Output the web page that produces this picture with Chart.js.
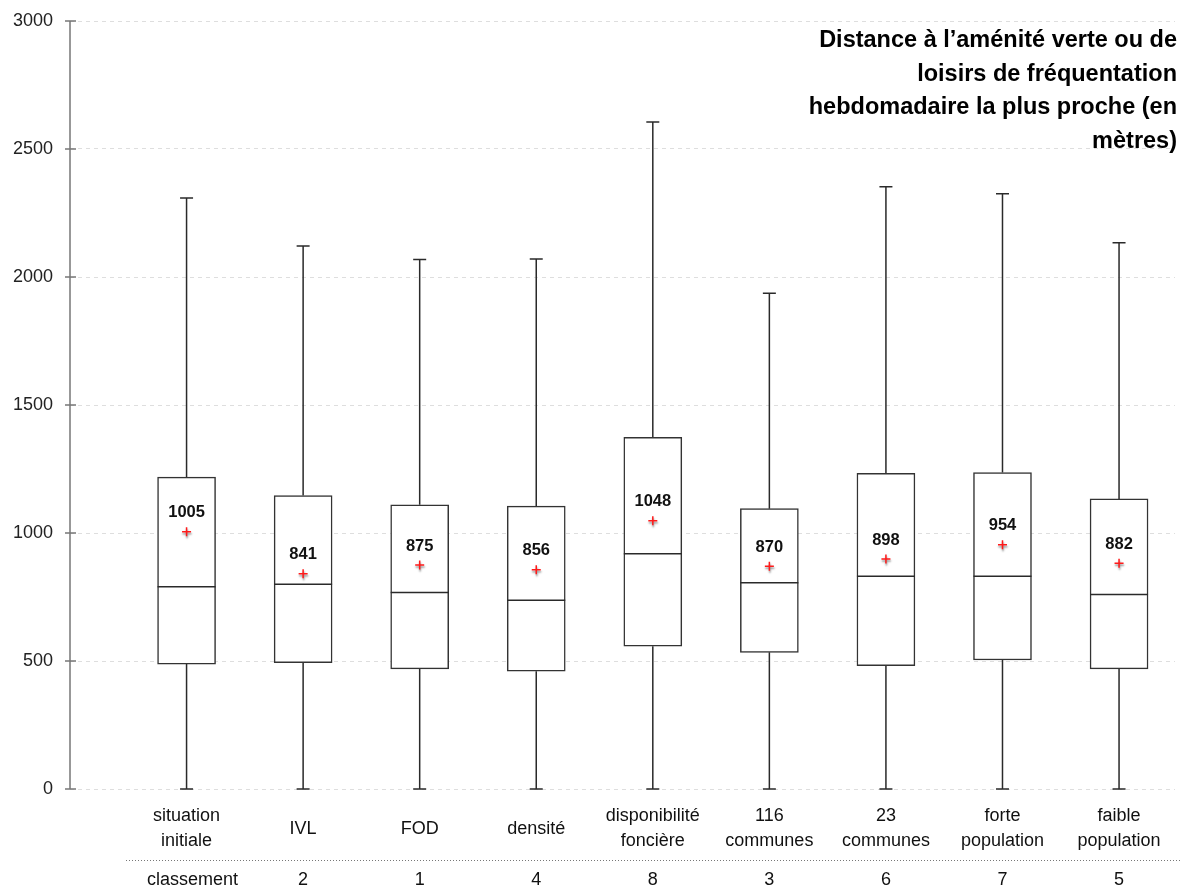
<!DOCTYPE html>
<html>
<head>
<meta charset="utf-8">
<script src="https://cdn.jsdelivr.net/npm/chart.js@4"></script>
<style>
  html, body { margin: 0; padding: 0; background: #fff; }
  #wrap { width: 1181px; height: 888px; }
</style>
</head>
<body>
<div id="wrap"><canvas id="box" width="1181" height="888"></canvas></div>
<script>
const categories = [['situation', 'initiale'], ['IVL'], ['FOD'], ['densité'], ['disponibilité', 'foncière'],
  ['116', 'communes'], ['23', 'communes'], ['forte', 'population'], ['faible', 'population']];
const whiskerLow = [0, 0, 0, 0, 0, 0, 0, 0, 0];
const q1 = [488, 493, 469, 460, 558, 534, 482, 504, 469];
const medians = [790, 800, 768, 737, 919, 806, 831, 831, 760];
const q3 = [1218, 1146, 1110, 1105, 1374, 1095, 1233, 1236, 1133];
const whiskerHigh = [2309, 2121, 2068, 2070, 2605, 1937, 2353, 2325, 2134];
const means = [1005, 841, 875, 856, 1048, 870, 898, 954, 882];
const rankTitle = 'classement';
const ranks = ['', '2', '1', '4', '8', '3', '6', '7', '5'];
const yTicks = [0, 500, 1000, 1500, 2000, 2500, 3000];
const titleLines = ['Distance à l’aménité verte ou de', 'loisirs de fréquentation',
  'hebdomadaire la plus proche (en', 'mètres)'];

const FONT = '"Liberation Sans", Arial, sans-serif';

const boxExtras = {
  id: 'boxExtras',
  beforeDatasetsDraw(chart) {
    const { ctx, scales: { x, y } } = chart;
    ctx.save();
    ctx.strokeStyle = '#2a2a2a';
    ctx.lineWidth = 1.5;
    categories.forEach((c, i) => {
      const cx = x.getPixelForValue(i);
      const top = y.getPixelForValue(whiskerHigh[i]);
      const bot = y.getPixelForValue(whiskerLow[i]);
      ctx.beginPath();
      ctx.moveTo(cx, top); ctx.lineTo(cx, y.getPixelForValue(q3[i]));
      ctx.moveTo(cx, y.getPixelForValue(q1[i])); ctx.lineTo(cx, bot);
      ctx.moveTo(cx - 6.5, top); ctx.lineTo(cx + 6.5, top);
      ctx.moveTo(cx - 6.5, bot); ctx.lineTo(cx + 6.5, bot);
      ctx.stroke();
    });
    ctx.restore();
  },
  beforeDatasetDraw(chart, args) {
    if (args.index === 1) {
      const ctx = chart.ctx;
      ctx.save();
      ctx.shadowColor = 'rgba(0,0,0,0.45)';
      ctx.shadowBlur = 2;
      ctx.shadowOffsetX = 0.5;
      ctx.shadowOffsetY = 2;
    }
  },
  afterDatasetDraw(chart, args) {
    if (args.index === 1) chart.ctx.restore();
  },
  afterDatasetsDraw(chart) {
    const { ctx, scales: { x, y } } = chart;
    ctx.save();
    ctx.strokeStyle = '#2a2a2a';
    ctx.lineWidth = 1.5;
    categories.forEach((c, i) => {
      const cx = x.getPixelForValue(i);
      const my = y.getPixelForValue(medians[i]);
      ctx.beginPath();
      ctx.moveTo(cx - 29, my); ctx.lineTo(cx + 29, my);
      ctx.stroke();
    });
    ctx.fillStyle = '#111';
    ctx.font = 'bold 16.5px ' + FONT;
    ctx.textAlign = 'center';
    ctx.textBaseline = 'middle';
    means.forEach((m, i) => {
      ctx.fillText(String(m), x.getPixelForValue(i), y.getPixelForValue(m) - 19);
    });
    ctx.restore();
  },
  afterDraw(chart) {
    const { ctx, scales: { x, y }, chartArea } = chart;
    ctx.save();
    // axis line and tick marks
    ctx.strokeStyle = '#777';
    ctx.lineWidth = 1.5;
    ctx.beginPath();
    ctx.moveTo(chartArea.left, y.getPixelForValue(3000));
    ctx.lineTo(chartArea.left, y.getPixelForValue(0));
    yTicks.forEach(v => {
      const py = y.getPixelForValue(v);
      ctx.moveTo(chartArea.left - 5, py); ctx.lineTo(chartArea.left + 6, py);
    });
    ctx.stroke();

    // title
    ctx.fillStyle = '#000';
    ctx.font = 'bold 23.5px ' + FONT;
    ctx.textAlign = 'right';
    ctx.textBaseline = 'middle';
    titleLines.forEach((t, k) => ctx.fillText(t, 1177, 41 + k * 33.5));

    // category labels
    ctx.fillStyle = '#111';
    ctx.font = '18px ' + FONT;
    ctx.textAlign = 'center';
    categories.forEach((c, i) => {
      const cx = x.getPixelForValue(i);
      if (c.length === 2) {
        ctx.fillText(c[0], cx, 816);
        ctx.fillText(c[1], cx, 841);
      } else {
        ctx.fillText(c[0], cx, 829);
      }
    });

    // dotted separator
    ctx.strokeStyle = '#777';
    ctx.lineWidth = 1;
    ctx.setLineDash([1, 2]);
    ctx.beginPath();
    ctx.moveTo(126, 860.5); ctx.lineTo(1181, 860.5);
    ctx.stroke();
    ctx.setLineDash([]);

    // ranking row
    ctx.fillText(rankTitle, x.getPixelForValue(0) + 6, 880);
    ranks.forEach((r, i) => {
      if (r) ctx.fillText(r, x.getPixelForValue(i), 880);
    });
    ctx.restore();
  }
};

new Chart(document.getElementById('box'), {
  type: 'bar',
  data: {
    datasets: [{
      label: 'boîtes',
      data: categories.map((c, i) => ({ x: i, y: [q1[i], q3[i]] })),
      backgroundColor: '#fff',
      borderColor: '#333',
      borderWidth: 1.5,
      borderSkipped: false,
      barThickness: 58,
      order: 2
    }, {
      type: 'scatter',
      label: 'moyenne',
      data: means.map((m, i) => ({ x: i, y: m })),
      pointStyle: 'cross',
      pointRadius: 4.5,
      borderColor: '#ff1a1a',
      borderWidth: 1.5,
      backgroundColor: '#ff1a1a',
      order: 1
    }]
  },
  options: {
    responsive: false,
    animation: false,
    devicePixelRatio: 1,
    layout: { padding: { top: 21, right: 1, bottom: 99, left: 0 } },
    plugins: { legend: { display: false }, tooltip: { enabled: false } },
    scales: {
      x: {
        type: 'linear',
        display: false,
        offset: false,
        min: -1,
        max: 8.48
      },
      y: {
        min: 0,
        max: 3000,
        afterFit(scale) { scale.width = 70; },
        ticks: {
          stepSize: 500,
          padding: 2,
          color: '#222',
          font: { family: FONT, size: 18 },
          callback: v => String(v)
        },
        grid: { color: '#dedede', lineWidth: 1, drawTicks: true, tickLength: 15, tickColor: 'rgba(0,0,0,0)' },
        border: { display: false, dash: [4, 4] }
      }
    }
  },
  plugins: [boxExtras]
});
</script>
</body>
</html>
